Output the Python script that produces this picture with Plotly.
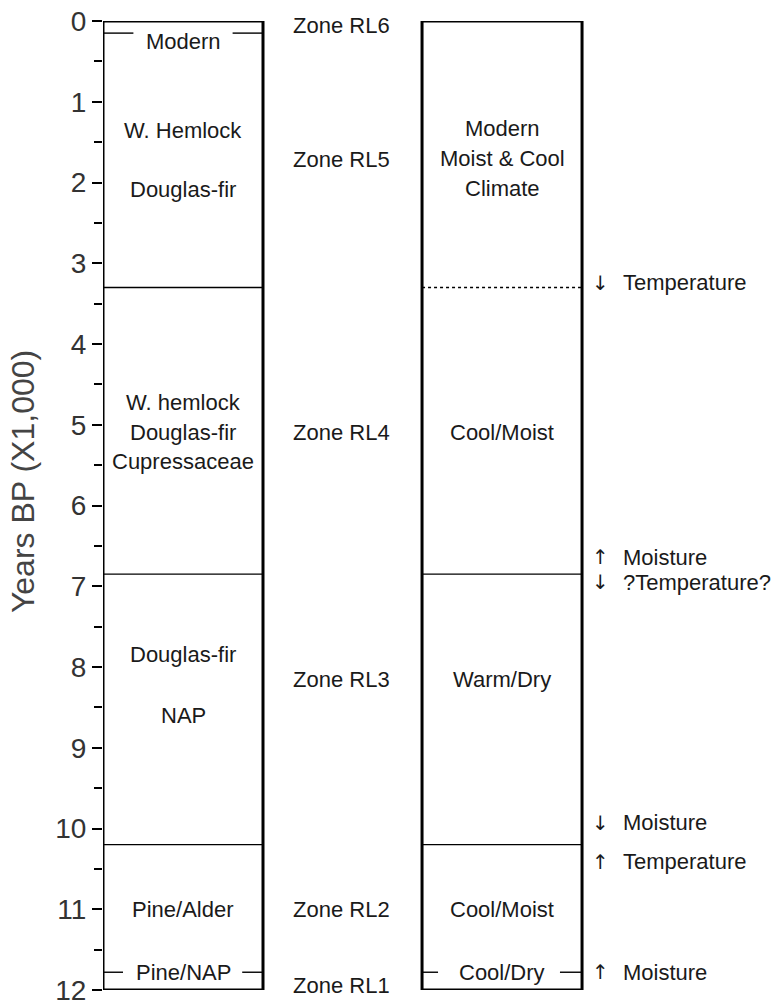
import plotly.graph_objects as go

# ---------------- data ----------------
Y_MIN, Y_MAX = 0, 12
tick_vals = list(range(0, 13))
tick_text = [str(v) for v in tick_vals]

# zone boundaries (x1000 yr BP)
zone_bounds = [3.3, 6.85, 10.2]
right_bound_styles = ["dot", "solid", "solid"]
modern_bound = 0.15       # Modern / W. Hemlock boundary (left column, split line)
rl1_bound = 11.78         # Pine/NAP & Cool/Dry boundary (split line)

zone_names = ["Zone RL6", "Zone RL5", "Zone RL4", "Zone RL3", "Zone RL2", "Zone RL1"]
zone_y = [0.05, 1.72, 5.1, 8.16, 11.0, 11.94]

veg_text = ["Modern", "W. Hemlock", "Douglas-fir", "W. hemlock", "Douglas-fir",
            "Cupressaceae", "Douglas-fir", "NAP", "Pine/Alder", "Pine/NAP"]
veg_y = [0.25, 1.35, 2.09, 4.73, 5.1, 5.46, 7.85, 8.6, 11.0, 11.78]

clim_text = ["Modern", "Moist & Cool", "Climate", "Cool/Moist", "Warm/Dry",
             "Cool/Moist", "Cool/Dry"]
clim_y = [1.33, 1.7, 2.07, 5.1, 8.16, 11.0, 11.78]

change_text = ["Temperature", "Moisture", "?Temperature?", "Moisture",
               "Temperature", "Moisture"]
change_dir = ["down", "up", "down", "down", "up", "up"]
change_y = [3.24, 6.64, 6.95, 9.93, 10.41, 11.78]

# ---------------- layout geometry (column units) ----------------
L0, L1 = 0.0, 1.0          # vegetation column
R0, R1 = 1.994, 2.994      # climate column
ZX = 1.49                  # zone label centre
AX, TX = 3.11, 3.24        # arrow / text positions
X_RANGE = [0, 674 / 160]

FONT = "Liberation Sans, Arial, sans-serif"
TXT = "#1a1a1a"
FS = 22

fig = go.Figure()
# invisible trace so axes exist
fig.add_trace(go.Scatter(x=[L0, R1], y=[Y_MIN, Y_MAX], mode="markers",
                         marker=dict(opacity=0), hoverinfo="skip", showlegend=False))

shapes = []
for x0, x1 in [(L0, L1), (R0, R1)]:
    shapes.append(dict(type="rect", xref="x", yref="y", x0=x0, x1=x1, y0=Y_MIN, y1=Y_MAX,
                       line=dict(color="black", width=3), fillcolor="rgba(0,0,0,0)",
                       layer="above"))
for b, st in zip(zone_bounds, right_bound_styles):
    shapes.append(dict(type="line", xref="x", yref="y", x0=L0, x1=L1, y0=b, y1=b,
                       line=dict(color="black", width=1.4)))
    shapes.append(dict(type="line", xref="x", yref="y", x0=R0, x1=R1, y0=b, y1=b,
                       line=dict(color="black", width=1.4, dash=st)))
# split boundary lines around text
for (x0, x1, yv) in [(L0, L0 + 0.19, modern_bound), (L0 + 0.81, L1, modern_bound),
                     (L0, L0 + 0.125, rl1_bound), (L0 + 0.87, L1, rl1_bound),
                     (R0, R0 + 0.1, rl1_bound), (R0 + 0.862, R1, rl1_bound)]:
    shapes.append(dict(type="line", xref="x", yref="y", x0=x0, x1=x1, y0=yv, y1=yv,
                       line=dict(color="black", width=1.4)))

ann = []
for t, yv in zip(zone_names, zone_y):
    ann.append(dict(x=ZX, y=yv, text=t, showarrow=False, xanchor="center", yanchor="middle",
                    font=dict(family=FONT, size=FS, color=TXT)))
for t, yv in zip(veg_text, veg_y):
    ann.append(dict(x=(L0 + L1) / 2, y=yv, text=t, showarrow=False, xanchor="center",
                    yanchor="middle", font=dict(family=FONT, size=FS, color=TXT)))
for t, yv in zip(clim_text, clim_y):
    ann.append(dict(x=(R0 + R1) / 2, y=yv, text=t, showarrow=False, xanchor="center",
                    yanchor="middle", font=dict(family=FONT, size=FS, color=TXT)))
for t, d, yv in zip(change_text, change_dir, change_y):
    ann.append(dict(x=AX, y=yv, text="↑" if d == "up" else "↓", showarrow=False,
                    xanchor="center", yanchor="middle",
                    font=dict(family="DejaVu Sans, sans-serif", size=20, color=TXT)))
    ann.append(dict(x=TX, y=yv, text=t, showarrow=False, xanchor="left", yanchor="middle",
                    font=dict(family=FONT, size=FS, color=TXT)))
# y-axis title
ann.append(dict(xref="paper", yref="y", x=(23 - 103) / 674, y=5.71,
                text="Years BP (X1,000)", textangle=-90, showarrow=False,
                xanchor="center", yanchor="middle",
                font=dict(family=FONT, size=32, color="#444")))

fig.update_layout(
    width=777, height=1005,
    margin=dict(l=103, r=0, t=21, b=15),
    paper_bgcolor="white", plot_bgcolor="white",
    showlegend=False,
    shapes=shapes, annotations=ann,
    xaxis=dict(range=X_RANGE, visible=False, showgrid=False, zeroline=False),
    yaxis=dict(range=[Y_MAX, Y_MIN], tickvals=tick_vals, ticktext=tick_text,
               ticks="outside", ticklen=10, tickwidth=1.5, tickcolor="black",
               showgrid=False, zeroline=False, showline=False,
               ticklabeloverflow="allow",
               tickfont=dict(family=FONT, size=28, color="#333"),
               minor=dict(dtick=0.5, ticks="outside", ticklen=8, tickwidth=1.5,
                          tickcolor="black", showgrid=False)),
)

fig.write_html("out.html")
